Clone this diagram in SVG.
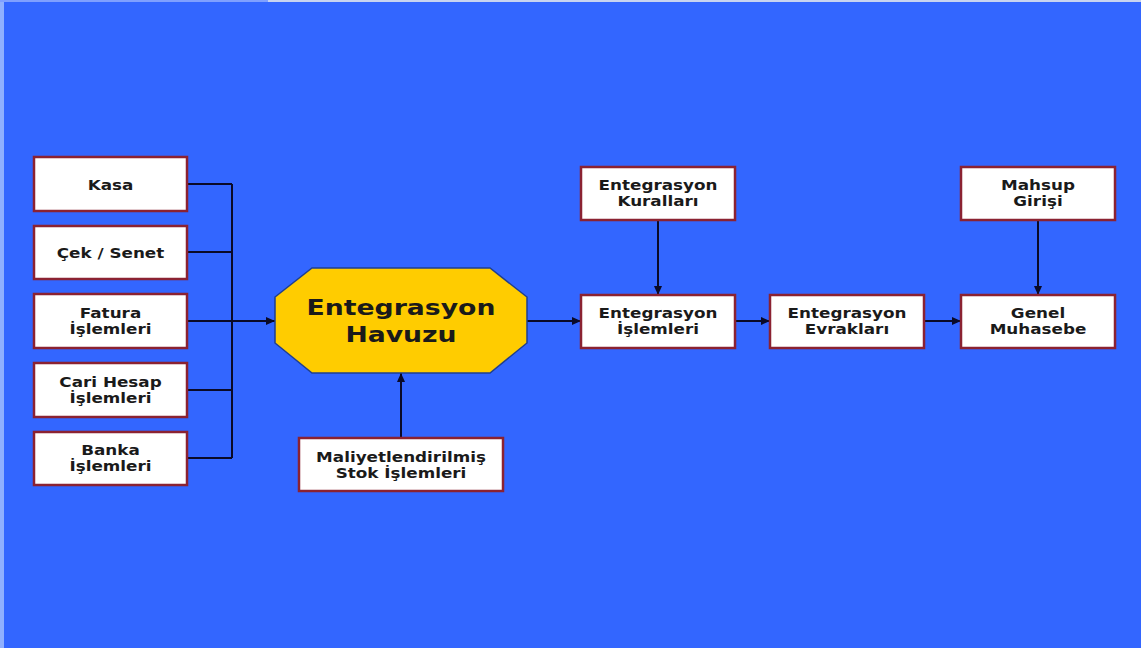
<svg xmlns="http://www.w3.org/2000/svg" width="1141" height="648" viewBox="0 0 1141 648">
<style>
.box{fill:#ffffff;stroke:#8b2232;stroke-width:2.5}
.t{font-family:"DejaVu Sans",Verdana,sans-serif;font-weight:bold;font-size:14px;fill:#1a1a1a;text-anchor:middle}
.big{font-size:21px}
.ln{fill:none;stroke:#0a0a28;stroke-width:2}
</style>
<defs>
<marker id="ah" markerUnits="userSpaceOnUse" markerWidth="9" markerHeight="8" refX="9" refY="4" orient="auto">
<path d="M0,0 L9,4 L0,8 z" fill="#0a0a28"/>
</marker>
</defs>
<rect x="0" y="0" width="1141" height="648" fill="#3366ff"/>
<rect x="0" y="0" width="4" height="648" fill="#8fb0ff"/>
<rect x="0" y="0" width="268" height="2" fill="#7fa0ff"/>
<rect x="268" y="0" width="873" height="2" fill="#c8d4f0"/>

<g id="connectors">
<path class="ln" d="M187,184 H232 M187,252 H232 M187,390 H232 M187,458 H232 M232,184 V458"/>
<path class="ln" d="M187,321 H275" marker-end="url(#ah)"/>
<path class="ln" d="M401,438 V373" marker-end="url(#ah)"/>
<path class="ln" d="M527,321 H581" marker-end="url(#ah)"/>
<path class="ln" d="M735,321 H770" marker-end="url(#ah)"/>
<path class="ln" d="M924,321 H961" marker-end="url(#ah)"/>
<path class="ln" d="M658,220 V295" marker-end="url(#ah)"/>
<path class="ln" d="M1038,220 V295" marker-end="url(#ah)"/>
</g>

<g id="kasa">
<rect class="box" x="34" y="157" width="153" height="54"/>
<text class="t" transform="translate(110.5 0) scale(1.2 1)" y="190">Kasa</text>
</g>
<g id="cek-senet">
<rect class="box" x="34" y="226" width="153" height="53"/>
<text class="t" transform="translate(110.5 0) scale(1.2 1)" y="258">Çek / Senet</text>
</g>
<g id="fatura">
<rect class="box" x="34" y="294" width="153" height="54"/>
<text class="t" transform="translate(110.5 0) scale(1.2 1)" y="318">Fatura</text>
<text class="t" transform="translate(110.5 0) scale(1.2 1)" y="334">İşlemleri</text>
</g>
<g id="cari-hesap">
<rect class="box" x="34" y="363" width="153" height="54"/>
<text class="t" transform="translate(110.5 0) scale(1.2 1)" y="387">Cari Hesap</text>
<text class="t" transform="translate(110.5 0) scale(1.2 1)" y="403">İşlemleri</text>
</g>
<g id="banka">
<rect class="box" x="34" y="432" width="153" height="53"/>
<text class="t" transform="translate(110.5 0) scale(1.2 1)" y="455">Banka</text>
<text class="t" transform="translate(110.5 0) scale(1.2 1)" y="471">İşlemleri</text>
</g>

<g id="havuz">
<polygon points="312,268 490,268 527,297 527,343 490,373 312,373 275,343 275,297" fill="#ffcc00" stroke="#1f3f8f" stroke-width="1.5"/>
<text class="t big" transform="translate(401 0) scale(1.27 1)" y="315">Entegrasyon</text>
<text class="t big" transform="translate(401 0) scale(1.27 1)" y="342">Havuzu</text>
</g>

<g id="maliyet">
<rect class="box" x="299" y="438" width="204" height="53"/>
<text class="t" transform="translate(401 0) scale(1.2 1)" y="462">Maliyetlendirilmiş</text>
<text class="t" transform="translate(401 0) scale(1.2 1)" y="478">Stok İşlemleri</text>
</g>

<g id="kurallar">
<rect class="box" x="581" y="167" width="154" height="53"/>
<text class="t" transform="translate(658 0) scale(1.2 1)" y="190.5">Entegrasyon</text>
<text class="t" transform="translate(658 0) scale(1.2 1)" y="206.5">Kuralları</text>
</g>
<g id="islemler">
<rect class="box" x="581" y="295" width="154" height="53"/>
<text class="t" transform="translate(658 0) scale(1.2 1)" y="318.5">Entegrasyon</text>
<text class="t" transform="translate(658 0) scale(1.2 1)" y="334.5">İşlemleri</text>
</g>
<g id="evraklar">
<rect class="box" x="770" y="295" width="154" height="53"/>
<text class="t" transform="translate(847 0) scale(1.2 1)" y="318.5">Entegrasyon</text>
<text class="t" transform="translate(847 0) scale(1.2 1)" y="334.5">Evrakları</text>
</g>
<g id="genel-muhasebe">
<rect class="box" x="961" y="295" width="154" height="53"/>
<text class="t" transform="translate(1038 0) scale(1.2 1)" y="318.5">Genel</text>
<text class="t" transform="translate(1038 0) scale(1.2 1)" y="334.5">Muhasebe</text>
</g>
<g id="mahsup">
<rect class="box" x="961" y="167" width="154" height="53"/>
<text class="t" transform="translate(1038 0) scale(1.2 1)" y="190.5">Mahsup</text>
<text class="t" transform="translate(1038 0) scale(1.2 1)" y="206.5">Girişi</text>
</g>
</svg>
